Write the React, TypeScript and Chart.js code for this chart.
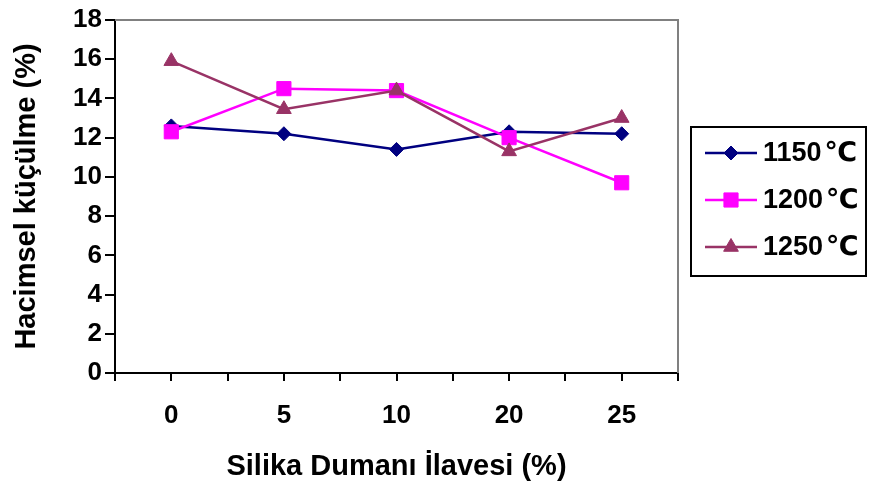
import React, { useEffect, useRef } from "react";
import { Chart, registerables } from "chart.js";
import { drawPoint } from "chart.js/helpers";

Chart.register(...registerables);

const categories = ["0", "5", "10", "20", "25"];
const seriesNames = ["1150℃", "1200℃", "1250℃"];
const s1150 = [12.6, 12.2, 11.4, 12.3, 12.2];
const s1200 = [12.3, 14.5, 14.4, 12.0, 9.7];
const s1250 = [15.9, 13.45, 14.4, 11.3, 13.0];
const yTicksMin = 0;
const yTicksMax = 18;
const yStep = 2;

const colors = ["#000080", "#FF00FF", "#993366"];
const pointStyles = ["rectRot", "rect", "triangle"];
const pointRadii = [7, 10, 8.5];

const FONT = "'Liberation Sans', Arial, 'Noto Sans CJK SC', sans-serif";
const FS = 26;
const TFS = 29;

const W = 870;
const H = 485;

export default function App() {
  const ref = useRef<HTMLCanvasElement>(null);

  useEffect(() => {
    const canvas = ref.current;
    if (!canvas) return;
    const allSeries = [s1150, s1200, s1250];

    const frame = {
      id: "frameAndLegend",
      afterDraw(chart: any) {
        const ctx = chart.ctx;
        const a = chart.chartArea;
        ctx.save();
        ctx.strokeStyle = "#808080";
        ctx.lineWidth = 2;
        ctx.beginPath();
        ctx.moveTo(a.left, a.top);
        ctx.lineTo(a.right, a.top);
        ctx.lineTo(a.right, a.bottom);
        ctx.stroke();

        const lx = a.right + 13;
        const ly = 127;
        const lw = 175;
        const lh = 149;
        ctx.strokeStyle = "#000";
        ctx.lineWidth = 2;
        ctx.strokeRect(lx, ly, lw, lh);
        const rowH = 47;
        chart.data.datasets.forEach((ds: any, i: number) => {
          const y = ly + 26 + i * rowH;
          ctx.strokeStyle = ds.borderColor;
          ctx.lineWidth = 2.5;
          ctx.beginPath();
          ctx.moveTo(lx + 14, y);
          ctx.lineTo(lx + 66, y);
          ctx.stroke();
          ctx.fillStyle = ds.pointBackgroundColor;
          ctx.strokeStyle = ds.pointBorderColor;
          ctx.lineWidth = 1;
          drawPoint(ctx, { pointStyle: ds.pointStyle, radius: ds.pointRadius, rotation: 0, borderWidth: 1 } as any, lx + 40, y);
          ctx.fillStyle = "#000";
          ctx.textBaseline = "middle";
          ctx.textAlign = "left";
          const label: string = ds.label;
          const num = label.replace("℃", "");
          ctx.font = `bold 27px ${FONT}`;
          ctx.fillText(num, lx + 72, y + 1);
          const nw = ctx.measureText(num).width;
          ctx.font = `bold 27px 'DejaVu Sans', sans-serif`;
          ctx.fillText("℃", lx + 72 + nw + 3, y + 1);
        });
        ctx.restore();
      },
    };

    const chart = new Chart(canvas, {
      type: "line",
      data: {
        datasets: allSeries.map((s, i) => ({
          label: seriesNames[i],
          data: s.map((v, j) => ({ x: j, y: v })),
          order: allSeries.length - i,
          borderColor: colors[i],
          backgroundColor: colors[i],
          pointBackgroundColor: colors[i],
          pointBorderColor: colors[i],
          pointStyle: pointStyles[i] as any,
          pointRadius: pointRadii[i],
          pointBorderWidth: 1,
          borderWidth: 2.5,
          tension: 0,
          fill: false,
        })),
      },
      options: {
        responsive: false,
        animation: false,
        layout: { padding: { top: 20, right: 192, left: 0, bottom: 0 } },
        plugins: {
          legend: { display: false },
          tooltip: { enabled: false },
        },
        scales: {
          x: {
            type: "linear",
            min: -0.5,
            max: categories.length - 0.5,
            afterFit: (s: any) => {
              s.height = 112;
            },
            afterBuildTicks: (s: any) => {
              const t = [];
              for (let k = 0; k <= categories.length * 2; k++) t.push({ value: -0.5 + k * 0.5 });
              s.ticks = t;
            },
            ticks: {
              autoSkip: false,
              maxRotation: 0,
              padding: 19,
              color: "#000",
              font: { family: FONT, size: FS, weight: "bold" },
              callback: (v: any) => {
                const n = Number(v);
                return Number.isInteger(n) ? categories[n] : "";
              },
            },
            grid: {
              drawOnChartArea: false,
              drawTicks: true,
              tickLength: 8,
              color: "#000",
              lineWidth: 2,
            },
            border: { display: true, color: "#000", width: 2 },
            title: {
              display: true,
              text: "Silika Dumanı İlavesi (%)",
              color: "#000",
              font: { family: FONT, size: TFS, weight: "bold" },
              padding: { top: 0, bottom: 1 },
            },
          },
          y: {
            min: yTicksMin,
            max: yTicksMax,
            afterFit: (s: any) => {
              s.width = 115;
            },
            ticks: {
              stepSize: yStep,
              padding: 3,
              color: "#000",
              font: { family: FONT, size: FS, weight: "bold" },
            },
            grid: {
              drawOnChartArea: false,
              drawTicks: true,
              tickLength: 10,
              color: "#000",
              lineWidth: 2,
            },
            border: { display: true, color: "#000", width: 2 },
            title: {
              display: true,
              text: "Hacimsel küçülme (%)",
              color: "#000",
              font: { family: FONT, size: TFS, weight: "bold" },
              padding: { top: 10, bottom: 0 },
            },
          },
        },
      },
      plugins: [frame],
    });

    return () => chart.destroy();
  }, []);

  return (
    <div style={{ position: "absolute", left: 0, top: 0, width: W, height: H, background: "#fff" }}>
      <canvas ref={ref} width={W} height={H} style={{ width: W, height: H, display: "block" }} />
    </div>
  );
}
